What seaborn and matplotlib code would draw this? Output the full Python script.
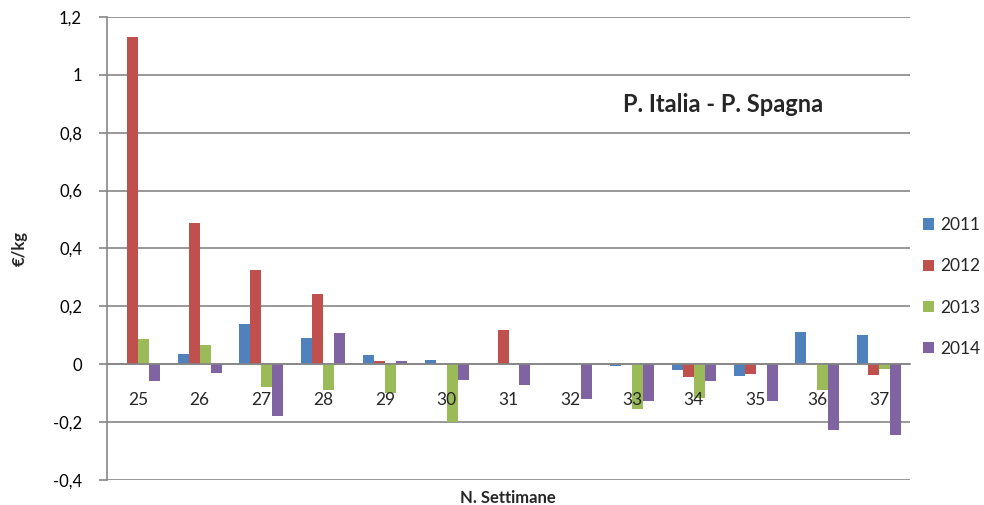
import matplotlib
matplotlib.use("Agg")
import matplotlib.pyplot as plt
import seaborn as sns
import pandas as pd

# Weekly price gap, Italy minus Spain (€/kg)
weeks = ["25", "26", "27", "28", "29", "30", "31", "32", "33", "34", "35", "36", "37"]
years = ["2011", "2012", "2013", "2014"]
gap_2011 = [0.0, 0.035, 0.138, 0.09, 0.031, 0.014, 0.0, 0.0, -0.005, -0.019, -0.04, 0.11, 0.1]
gap_2012 = [1.13, 0.488, 0.325, 0.242, 0.01, 0.0, 0.118, 0.0, 0.0, -0.044, -0.032, 0.002, -0.038]
gap_2013 = [0.087, 0.066, -0.08, -0.09, -0.098, -0.198, 0.0, 0.0, -0.153, -0.118, 0.0, -0.09, -0.017]
gap_2014 = [-0.059, -0.03, -0.18, 0.107, 0.01, -0.055, -0.07, -0.12, -0.128, -0.059, -0.128, -0.228, -0.245]
yticks = [-0.4, -0.2, 0, 0.2, 0.4, 0.6, 0.8, 1.0, 1.2]
ytick_labels = ["-0,4", "-0,2", "0", "0,2", "0,4", "0,6", "0,8", "1", "1,2"]
colors = ["#4F81BD", "#C0504D", "#9BBB59", "#8064A2"]

series = [gap_2011, gap_2012, gap_2013, gap_2014]
df = pd.DataFrame({
    "week": [w for s in series for w in weeks],
    "year": [y for y, s in zip(years, series) for _ in s],
    "value": [v for s in series for v in s],
})

sns.set_style("white")
plt.rcParams["font.family"] = ["Lato", "DejaVu Sans"]

fig = plt.figure(figsize=(9.84, 5.05), dpi=100)
ax = fig.add_axes([107 / 984, 1 - 480 / 505, (910 - 107) / 984, (480 - 17) / 505])

sns.barplot(data=df, x="week", y="value", hue="year", order=weeks, hue_order=years,
            palette=colors, width=0.71, saturation=1, linewidth=0, ax=ax, legend=True)

ax.set_ylim(-0.4, 1.2)
ax.set_xlim(-0.5, len(weeks) - 0.5)
ax.set_yticks(yticks)
ax.set_yticklabels(ytick_labels)
grid_col = "#868686"
ax.yaxis.grid(True, color=grid_col, linewidth=1.2)
ax.set_axisbelow(True)

for side in ("top", "right"):
    ax.spines[side].set_visible(False)
ax.spines["left"].set_color(grid_col)
ax.spines["left"].set_linewidth(1.2)
ax.spines["bottom"].set_position(("data", 0))
ax.spines["bottom"].set_color(grid_col)
ax.spines["bottom"].set_linewidth(1.2)
ax.spines["bottom"].set_zorder(3)

ax.tick_params(axis="y", left=True, length=6, width=1.2, color=grid_col, pad=12,
               labelsize=12, labelcolor="black")
# category labels sit just under the zero line, drawn above the bars
ax.tick_params(axis="x", bottom=False, labelbottom=False)
for i, w in enumerate(weeks):
    ax.text(i, -0.125, w, ha="center", va="center", fontsize=12.5, zorder=6)

ax.set_xlabel("")
fig.text(508 / 984, 1 - 498 / 505, "N. Settimane", ha="center", va="center",
         fontsize=12, fontweight="bold")
ax.set_ylabel("€/kg", fontsize=12, fontweight="bold", labelpad=18)

ax.text(723 / 984, 1 - 105 / 505, "P. Italia - P. Spagna", transform=fig.transFigure,
        fontsize=17, fontweight="bold", ha="center", va="center")

handles, labels = ax.get_legend_handles_labels()
ax.legend_.remove()
fig.legend(handles, labels, loc="center left", bbox_to_anchor=(923 / 984, 1 - 287 / 505),
           frameon=False, fontsize=12.5, borderpad=0, borderaxespad=0,
           handlelength=0.65, handleheight=0.65, handletextpad=0.35, labelspacing=1.45)

fig.savefig("out.png", dpi=100)
